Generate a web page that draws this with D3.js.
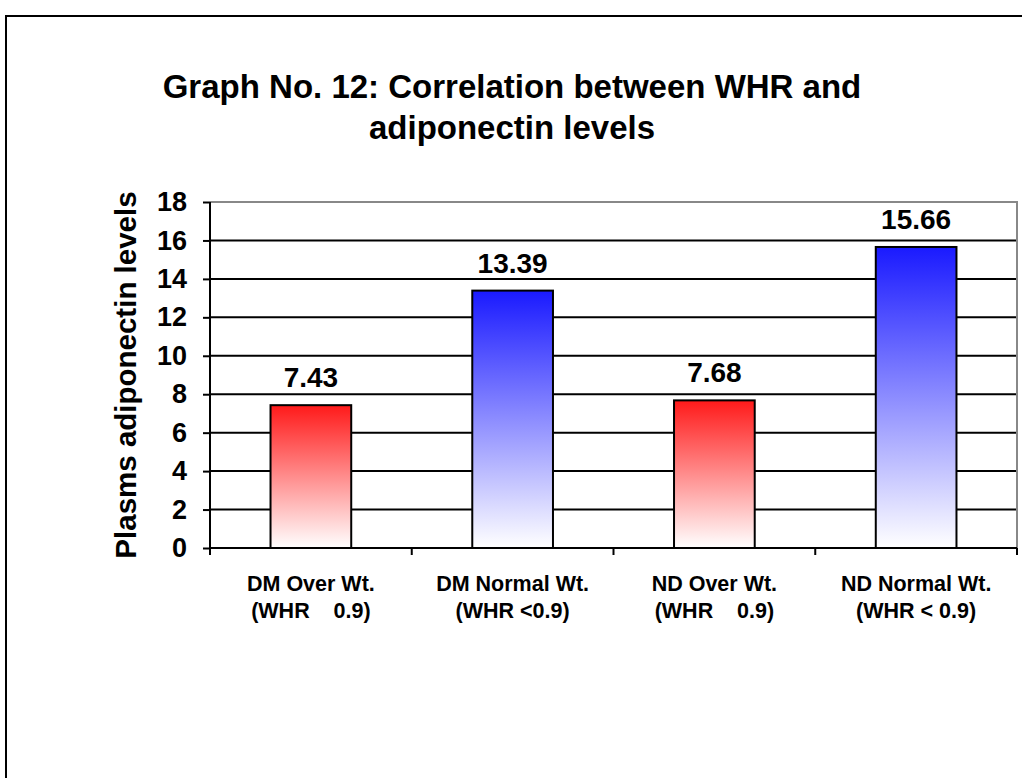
<!DOCTYPE html>
<html><head><meta charset="utf-8">
<script src="https://cdn.jsdelivr.net/npm/d3@7"></script>
<style>body{margin:0;background:#fff;}svg{display:block;font-family:"Liberation Sans",Arial,sans-serif;}</style>
</head><body>
<svg id="c" width="1022" height="778"></svg>
<script>
const categories = ["DM Over Wt.|(WHR    0.9)", "DM Normal Wt.|(WHR <0.9)", "ND Over Wt.|(WHR    0.9)", "ND Normal Wt.|(WHR < 0.9)"];
const values = [7.43, 13.39, 7.68, 15.66];
const barColors = ["red", "blue", "red", "blue"];
const yTicks = [0, 2, 4, 6, 8, 10, 12, 14, 16, 18];
const titleLines = ["Graph No. 12: Correlation between WHR and", "adiponectin levels"];
const yTitle = "Plasms adiponectin levels";

const svg = d3.select("#c");
// outer frame
svg.append("rect").attr("x", 6).attr("y", 16).attr("width", 1030).attr("height", 800)
  .attr("fill", "none").attr("stroke", "#000").attr("stroke-width", 2);

const m = {l: 210, r: 1017, t: 202, b: 548};
const x = d3.scaleBand().domain(categories).range([m.l, m.r]).paddingInner(0.6).paddingOuter(0.3);
const xb = d3.scaleBand().domain(categories).range([m.l, m.r]);
const y = d3.scaleLinear().domain([0, 18]).range([m.b, m.t]);

const defs = svg.append("defs");
const grads = {red: "#ff1a1a", blue: "#1a1aff"};
Object.entries(grads).forEach(([k, c]) => {
  const g = defs.append("linearGradient").attr("id", "g" + k).attr("x1", 0).attr("y1", 0).attr("x2", 0).attr("y2", 1);
  g.append("stop").attr("offset", "0%").attr("stop-color", c);
  g.append("stop").attr("offset", "100%").attr("stop-color", "#ffffff");
});

// plot border (grey top/right)
svg.append("path").attr("d", `M${m.l},${m.t}H${m.r}V${m.b}`).attr("fill", "none").attr("stroke", "#888").attr("stroke-width", 2);

// gridlines
svg.append("g").selectAll("line").data(yTicks.filter(d => d > 0 && d < 18)).join("line")
  .attr("x1", m.l).attr("x2", m.r - 1).attr("y1", d => y(d)).attr("y2", d => y(d))
  .attr("stroke", "#000").attr("stroke-width", 2);

// bars
svg.append("g").selectAll("rect").data(values).join("rect")
  .attr("x", (d, i) => x(categories[i])).attr("width", x.bandwidth())
  .attr("y", d => y(d)).attr("height", d => m.b - y(d))
  .attr("fill", (d, i) => `url(#g${barColors[i]})`).attr("stroke", "#000").attr("stroke-width", 2);

// value labels
svg.append("g").selectAll("text").data(values).join("text")
  .attr("x", (d, i) => x(categories[i]) + x.bandwidth() / 2).attr("y", d => y(d) - 18)
  .attr("text-anchor", "middle").attr("font-size", 28).attr("font-weight", "bold").text(d => d.toFixed(2));

// y axis
const ya = svg.append("g").attr("transform", `translate(${m.l},0)`)
  .call(d3.axisLeft(y).tickValues(yTicks).tickSize(7).tickPadding(16).tickFormat(d3.format("d")));
ya.select(".domain").attr("stroke", "#000").attr("stroke-width", 2).attr("d", `M0,${m.t}V${m.b}`);
ya.selectAll(".tick line").attr("stroke", "#000").attr("stroke-width", 2);
ya.selectAll(".tick text").attr("font-size", 27).attr("font-weight", "bold").attr("fill", "#000")
  .attr("font-family", "Liberation Sans, Arial, sans-serif");

// x axis
const xa = svg.append("g").attr("transform", `translate(0,${m.b})`)
  .call(d3.axisBottom(xb).tickSize(0).tickFormat(""));
xa.select(".domain").attr("stroke", "#000").attr("stroke-width", 2).attr("d", `M${m.l},0H${m.r}`);
xa.selectAll(".tick").remove();
xa.selectAll("line.sep").data(d3.range(categories.length + 1)).join("line").attr("class", "sep")
  .attr("x1", i => m.l + i * xb.step()).attr("x2", i => m.l + i * xb.step())
  .attr("y1", 0).attr("y2", 7).attr("stroke", "#000").attr("stroke-width", 2);

// category labels
const cl = svg.append("g").selectAll("text").data(categories).join("text")
  .attr("text-anchor", "middle").attr("font-size", 21.5).attr("font-weight", "bold")
  .attr("transform", d => `translate(${xb(d) + xb.bandwidth() / 2},591)`)
  .attr("xml:space", "preserve").style("white-space", "pre");
cl.selectAll("tspan").data(d => d.split("|")).join("tspan")
  .attr("x", 0).attr("dy", (d, i) => i === 0 ? 0 : 27).text(d => d);

// y title
svg.append("text").attr("transform", `translate(136,${(m.t + m.b) / 2 + 0}) rotate(-90)`)
  .attr("text-anchor", "middle").attr("font-size", 29.5).attr("font-weight", "bold").text(yTitle);

// title
svg.append("g").selectAll("text").data(titleLines).join("text")
  .attr("x", 512).attr("y", (d, i) => 98 + i * 41)
  .attr("text-anchor", "middle").attr("font-size", 33).attr("font-weight", "bold").text(d => d);
</script>
</body></html>
